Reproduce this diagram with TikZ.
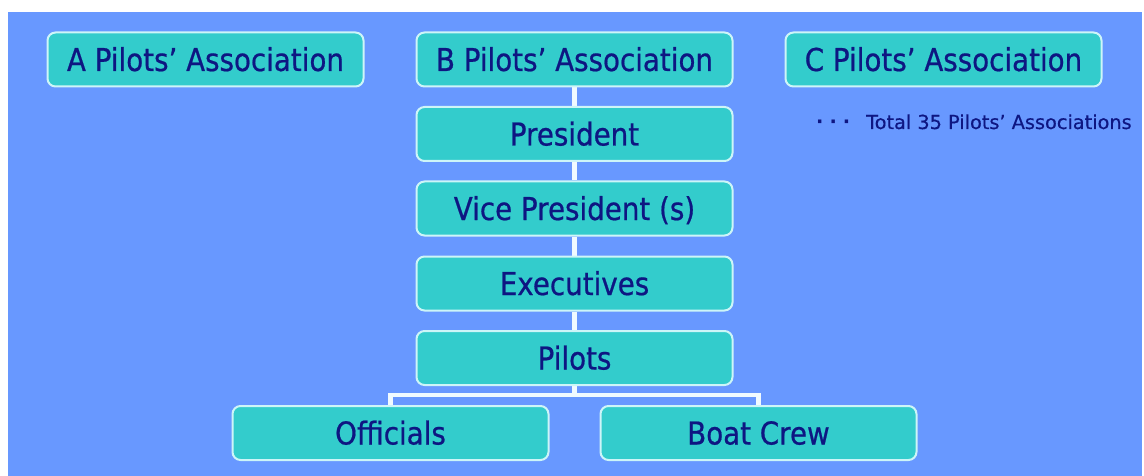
\documentclass[tikz,border=0pt]{standalone}
\usepackage{fontspec}
\newfontfamily\boxfontfam[FakeStretch=0.88,FakeBold=0.6]{DejaVu Sans}
\newfontfamily\notefontfam[FakeBold=0.5]{DejaVu Sans}
\newfontfamily\dotfontfam{DejaVu Sans Bold}
\usetikzlibrary{calc}
\definecolor{bgblue}{RGB}{104,152,255}
\definecolor{boxfill}{RGB}{51,204,204}
\definecolor{boxedge}{RGB}{205,245,248}
\definecolor{navytext}{RGB}{14,22,130}
\definecolor{linkc}{RGB}{240,250,255}
\pgfdeclarelayer{back}
\pgfdeclarelayer{links}
\pgfsetlayers{back,links,main}
\tikzset{
  orgbox/.style={draw=boxedge, line width=2pt, fill=boxfill, rounded corners=8pt,
    minimum width=316pt, minimum height=54pt, inner sep=0pt, text=navytext,
    font=\boxfontfam\fontsize{31.5}{36}\selectfont, text height=23pt, text depth=0pt},
  link/.style={draw=linkc, line width=4.5pt},
  note/.style={text=navytext, font=\notefontfam\fontsize{19.3}{22}\selectfont, inner sep=0pt}
}
\begin{document}
\begin{tikzpicture}[x=1pt,y=-1pt]
\useasboundingbox (0,0) rectangle (1144,476);
\begin{pgfonlayer}{back}
  \fill[white] (0,0) rectangle (1144,476);
  \fill[bgblue] (8,12) rectangle (1142,476);
\end{pgfonlayer}
\node[orgbox] (a) at (205.5,59.5) {A Pilots’ Association};
\node[orgbox] (b) at (574.5,59.5) {B Pilots’ Association};
\node[orgbox] (c) at (943.5,59.5) {C Pilots’ Association};
\node[orgbox] (pres) at (574.5,134) {President};
\node[orgbox] (vp) at (574.5,208.5) {Vice President (s)};
\node[orgbox] (exec) at (574.5,283.5) {Executives};
\node[orgbox] (pil) at (574.5,358) {Pilots};
\node[orgbox] (off) at (390.5,433) {Officials};
\node[orgbox] (crew) at (758.5,433) {Boat Crew};
\node[note, anchor=base west] (total) at (816,129) {{\dotfontfam ·\hspace{6pt}·\hspace{6pt}·}\hspace{16pt}Total 35 Pilots’ Associations};
\coordinate (fork) at (574.5,395);
\begin{pgfonlayer}{links}
  \draw[link] (b.south) -- (pres.north);
  \draw[link] (pres.south) -- (vp.north);
  \draw[link] (vp.south) -- (exec.north);
  \draw[link] (exec.south) -- (pil.north);
  \draw[link] (pil.south) -- (fork);
  \draw[link] (off.north) |- (fork) -| (crew.north);
\end{pgfonlayer}
\end{tikzpicture}
\end{document}
